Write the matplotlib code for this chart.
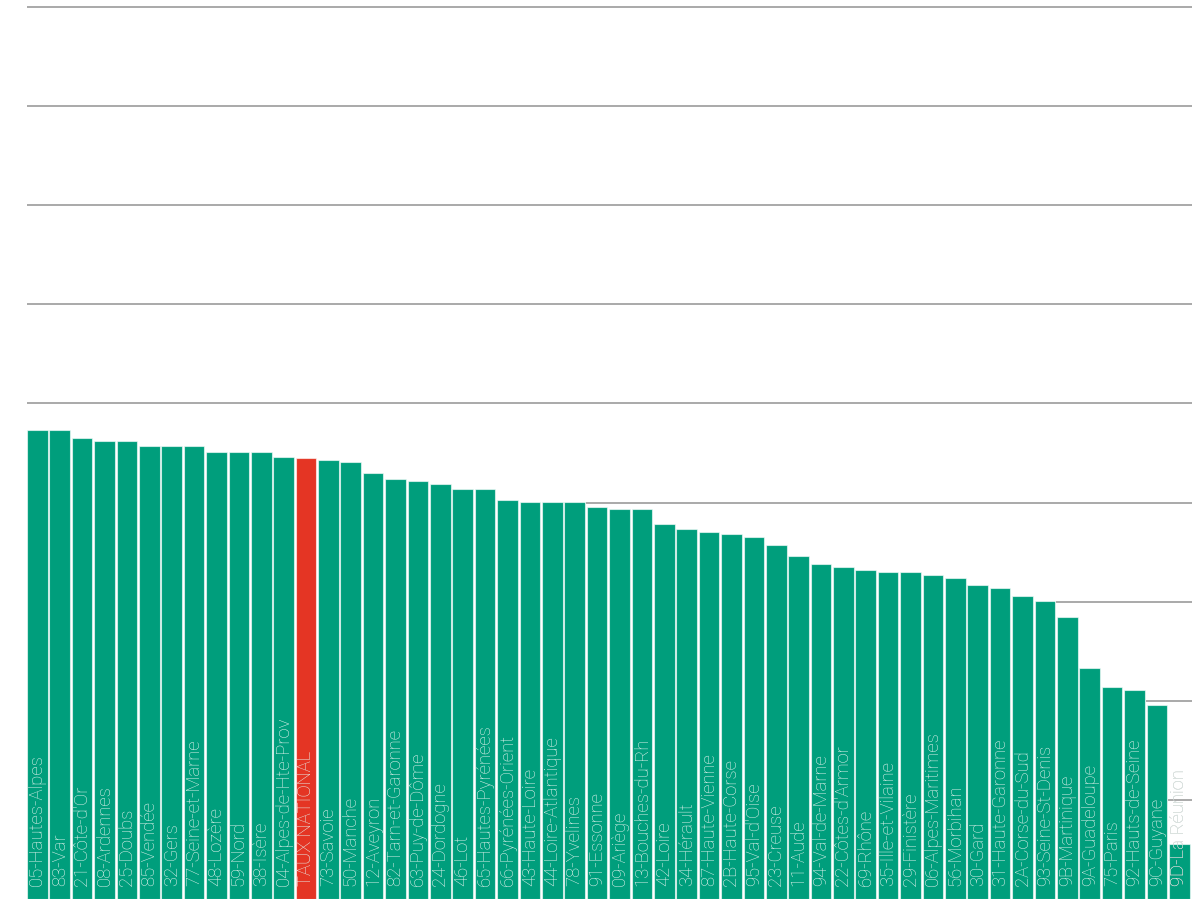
import matplotlib
matplotlib.use("Agg")
import matplotlib.pyplot as plt

# departements, taux (lecture du graphique)
labels = [
    "05-Hautes-Alpes", "83-Var", "21-Côte-d'Or", "08-Ardennes", "25-Doubs",
    "85-Vendée", "32-Gers", "77-Seine-et-Marne", "48-Lozère", "59-Nord",
    "38-Isère", "04-Alpes-de-Hte-Prov", "TAUX NATIONAL", "73-Savoie",
    "50-Manche", "12-Aveyron", "82-Tarn-et-Garonne", "63-Puy-de-Dôme",
    "24-Dordogne", "46-Lot", "65-Hautes-Pyrénées", "66-Pyrénées-Orient",
    "43-Haute-Loire", "44-Loire-Atlantique", "78-Yvelines", "91-Essonne",
    "09-Ariège", "13-Bouches-du-Rh", "42-Loire", "34-Hérault",
    "87-Haute-Vienne", "2B-Haute-Corse", "95-Val-d'Oise", "23-Creuse",
    "11-Aude", "94-Val-de-Marne", "22-Côtes-d'Armor", "69-Rhône",
    "35-Ille-et-Vilaine", "29-Finistère", "06-Alpes-Maritimes",
    "56-Morbihan", "30-Gard", "31-Haute-Garonne", "2A-Corse-du-Sud",
    "93-Seine-St-Denis", "9B-Martinique", "9A-Guadeloupe", "75-Paris",
    "92-Hauts-de-Seine", "9C-Guyane", "9D-La Réunion",
]
values = [
    4.73, 4.73, 4.65, 4.62, 4.62, 4.57, 4.57, 4.57, 4.51, 4.51,
    4.51, 4.46, 4.45, 4.43, 4.41, 4.30, 4.24, 4.22, 4.19, 4.14,
    4.14, 4.03, 4.01, 4.01, 4.01, 3.95, 3.93, 3.93, 3.78, 3.73,
    3.70, 3.68, 3.65, 3.57, 3.46, 3.38, 3.35, 3.32, 3.30, 3.30,
    3.27, 3.24, 3.17, 3.14, 3.06, 3.01, 2.85, 2.33, 2.14, 2.11,
    1.96, 0.55,
]
gridlines = [1, 2, 3, 4, 5, 6, 7, 8, 9]

GREEN = "#009e7c"
RED = "#e43524"

fig = plt.figure(figsize=(12.02, 9.01), dpi=100)
ax = fig.add_axes([27 / 1202, 2 / 901, 1165 / 1202, 897 / 901])

x = list(range(len(labels)))
colors = [RED if l == "TAUX NATIONAL" else GREEN for l in labels]

for g in gridlines:
    ax.axhline(g, color="#a3a3a3", linewidth=1.3, zorder=1)

# fond blanc sous les barres : cache les lignes dans les interstices
ax.bar(x, values, width=1.0, color="white", linewidth=0, zorder=1.8)
bars = ax.bar(x, values, width=0.92, color=colors,
              edgecolor=(1, 1, 1, 0.6), linewidth=0.8, zorder=2)

ax.set_xlim(-0.46, 51.57)
ax.set_ylim(0, 9.05)
ax.axis("off")

font = ["Roboto", "DejaVu Sans"]
texts = []
for xi, lab, b in zip(x, labels, bars):
    t = ax.text(xi, 0.13, lab, rotation=90, ha="center", va="bottom",
                fontsize=13.3, family=font, weight="light", color="#e6f5f0",
                zorder=3)
    t.set_clip_path(b)
    texts.append(t)

# si le texte depasse la barre : partie hors barre en gris
fig.canvas.draw()
r = fig.canvas.get_renderer()
for xi, lab, b, t in zip(x, labels, bars, texts):
    if t.get_window_extent(r).y1 > b.get_window_extent(r).y1:
        ax.text(xi, 0.13, lab, rotation=90, ha="center", va="bottom",
                fontsize=13.3, family=font, weight="light", color="#a0a0a0",
                zorder=2.5)

fig.savefig("out.png", dpi=100)
